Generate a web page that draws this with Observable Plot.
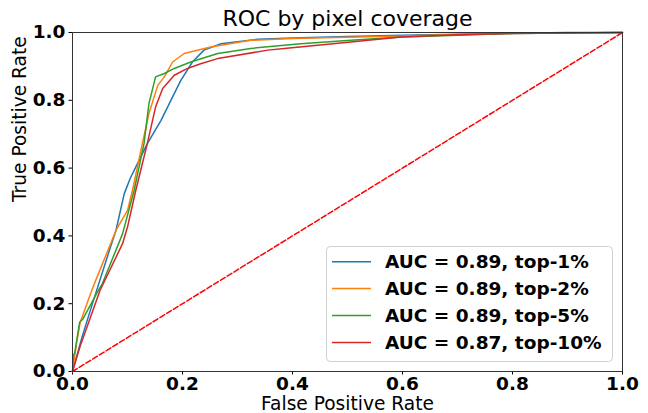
<!DOCTYPE html>
<html>
<head>
<meta charset="utf-8">
<script src="https://cdn.jsdelivr.net/npm/d3@7"></script>
<script src="https://cdn.jsdelivr.net/npm/@observablehq/plot@0.6"></script>
<style>
  html, body { margin: 0; padding: 0; background: #fff; }
  #chart svg { font-family: "DejaVu Sans", sans-serif; }
</style>
</head>
<body>
<div id="chart"></div>
<script>
// ---- data ----
const seriesNames = ["AUC = 0.89, top-1%", "AUC = 0.89, top-2%", "AUC = 0.89, top-5%", "AUC = 0.87, top-10%"];
const seriesColors = ["#1f77b4", "#ff7f0e", "#2ca02c", "#d62728"];

const fpr1 = [0, 0.017, 0.038, 0.067, 0.079, 0.094, 0.105, 0.115, 0.136, 0.161, 0.182, 0.197, 0.218, 0.239, 0.27, 0.3, 0.337, 0.4, 0.5, 0.6, 0.7, 0.8, 0.9, 1];
const tpr1 = [0, 0.1, 0.209, 0.357, 0.416, 0.524, 0.57, 0.603, 0.672, 0.741, 0.81, 0.859, 0.913, 0.948, 0.967, 0.973, 0.98, 0.984, 0.988, 0.992, 0.995, 0.998, 1, 1];

const fpr2 = [0, 0.008, 0.014, 0.035, 0.042, 0.079, 0.1, 0.109, 0.127, 0.139, 0.155, 0.167, 0.182, 0.203, 0.251, 0.324, 0.4, 0.5, 0.6, 0.7, 0.8, 1];
const tpr2 = [0, 0.09, 0.145, 0.239, 0.268, 0.416, 0.475, 0.534, 0.672, 0.761, 0.844, 0.869, 0.913, 0.938, 0.957, 0.977, 0.982, 0.986, 0.99, 0.994, 0.998, 1];

const fpr3 = [0, 0.002, 0.004, 0.013, 0.019, 0.047, 0.054, 0.091, 0.112, 0.13, 0.139, 0.151, 0.167, 0.185, 0.215, 0.264, 0.324, 0.415, 0.506, 0.6, 0.7, 0.8, 1];
const tpr3 = [0, 0.05, 0.055, 0.145, 0.155, 0.239, 0.258, 0.406, 0.534, 0.672, 0.79, 0.869, 0.879, 0.894, 0.913, 0.938, 0.953, 0.967, 0.977, 0.987, 0.992, 0.997, 1];

const fpr4 = [0, 0.015, 0.05, 0.091, 0.1, 0.115, 0.136, 0.151, 0.164, 0.185, 0.209, 0.233, 0.264, 0.355, 0.385, 0.506, 0.597, 0.7, 0.8, 1];
const tpr4 = [0, 0.08, 0.239, 0.377, 0.426, 0.534, 0.672, 0.78, 0.835, 0.874, 0.894, 0.908, 0.923, 0.948, 0.953, 0.972, 0.987, 0.993, 0.997, 1];

const diagX = [0, 1];
const diagY = [0, 1];

const xTicks = [0, 0.2, 0.4, 0.6, 0.8, 1.0];
const yTicks = [0, 0.2, 0.4, 0.6, 0.8, 1.0];

const titleText = "ROC by pixel coverage";
const xLabel = "False Positive Rate";
const yLabel = "True Positive Rate";

// ---- build tables ----
const fprs = [fpr1, fpr2, fpr3, fpr4];
const tprs = [tpr1, tpr2, tpr3, tpr4];
const rows = [];
fprs.forEach((f, s) => f.forEach((v, i) => rows.push({series: seriesNames[s], fpr: v, tpr: tprs[s][i]})));
const diag = diagX.map((v, i) => ({x: v, y: diagY[i]}));

const W = 648, H = 413;
const mL = 72, mR = 26, mT = 32, mB = 42;

const chart = Plot.plot({
  width: W, height: H,
  marginLeft: mL, marginRight: mR, marginTop: mT, marginBottom: mB,
  style: {fontFamily: "DejaVu Sans, sans-serif", background: "white", color: "black"},
  x: {domain: [0, 1]},
  y: {domain: [0, 1]},
  color: {domain: seriesNames, range: seriesColors},
  marks: [
    Plot.axisX({ticks: xTicks, tickFormat: d => d.toFixed(1), tickSize: 3.5, tickPadding: 1.5,
      fontSize: 18.5, fontWeight: "bold", label: null}),
    Plot.axisY({ticks: yTicks, tickFormat: d => d.toFixed(1), tickSize: 3.5, tickPadding: 3.5,
      fontSize: 18.5, fontWeight: "bold", label: null}),
    Plot.line(rows, {x: "fpr", y: "tpr", z: "series", stroke: "series", strokeWidth: 1.5}),
    Plot.line(diag, {x: "x", y: "y", stroke: "red", strokeWidth: 1.5, strokeDasharray: "5.5,2.4"}),
    Plot.frame({stroke: "#333", strokeWidth: 1}),
    Plot.text([titleText], {frameAnchor: "top", lineAnchor: "middle", dy: -14, fontSize: 22, fill: "black"}),
    Plot.text([xLabel], {frameAnchor: "bottom", lineAnchor: "middle", dy: 33, fontSize: 18.6, fill: "black"}),
    Plot.text([yLabel], {frameAnchor: "left", lineAnchor: "middle", rotate: -90, dx: -52, fontSize: 18.6, fill: "black"})
  ]
});
document.getElementById("chart").appendChild(chart);

// ---- legend (inside plot, lower right) ----
const svg = d3.select(chart);
const lg = svg.append("g").attr("font-family", "DejaVu Sans, sans-serif").attr("text-anchor", "start");
const boxX = 326.5, boxY = 246.5, boxW = 286, boxH = 115, rowH = 26.9, firstRow = 261.7;
lg.append("rect").attr("x", boxX).attr("y", boxY).attr("width", boxW).attr("height", boxH)
  .attr("rx", 4).attr("fill", "white").attr("fill-opacity", 0.8).attr("stroke", "#d0d0d0").attr("stroke-width", 1);
seriesNames.forEach((name, i) => {
  const yy = firstRow + i * rowH;
  lg.append("line").attr("x1", 332).attr("x2", 371).attr("y1", yy).attr("y2", yy)
    .attr("stroke", seriesColors[i]).attr("stroke-width", 1.5);
  lg.append("text").attr("x", 385).attr("y", yy).attr("dy", "0.35em").attr("text-anchor", "start")
    .attr("font-size", 18.5).attr("font-weight", "bold").attr("fill", "black").text(name);
});
</script>
</body>
</html>
